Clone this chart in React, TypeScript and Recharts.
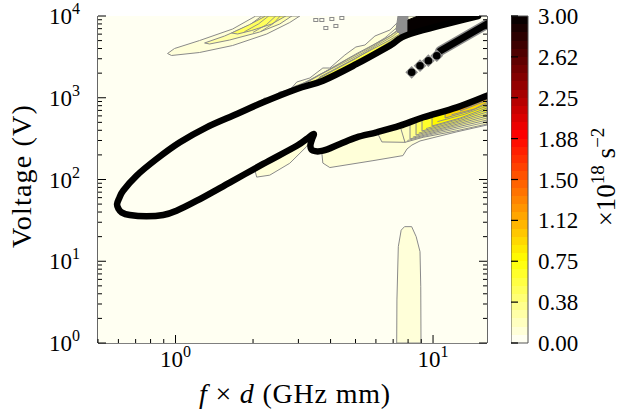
import React from "react";
import { ScatterChart, Scatter, XAxis, YAxis, ComposedChart, ReferenceArea } from "recharts";

type P = [number, number];

// contour outlines: [f x d (GHz mm), voltage (V)]
const breakdownEdge: P[] = [
  [14.96, 10000], [8.14, 6025], [6.8, 4335], [5.05, 2588], [3.74, 1617], [2.96, 1279],
  [2.19, 880], [1.73, 633], [1.32, 435], [1.04, 285], [0.844, 178], [0.705, 111],
  [0.626, 73], [0.605, 59.4], [0.593, 50], [0.6, 44], [0.617, 39.7], [0.664, 36.8],
  [0.771, 35.5], [0.896, 36.8], [1.009, 41.5], [1.21, 55], [1.63, 92.4], [2.19, 155],
  [2.96, 259], [3.23, 313], [3.44, 360], [3.38, 304], [3.34, 257], [3.41, 226],
  [3.74, 225], [4.35, 272], [5.05, 328], [6.04, 378], [7.44, 455], [9.17, 577],
  [12.37, 764], [16.2, 1060],
];

const plotField: P[] = [[0.5, 1], [16.2, 1], [16.2, 10000], [0.5, 10000]];

const topTongue1: P[] = [
  [0.931, 3477], [0.991, 4002], [1.24, 5012], [1.667, 6935], [2.048, 10000], [3.038, 10000],
  [2.777, 8324], [2.261, 6025], [1.667, 4355], [1.24, 3578], [0.965, 3288],
];
const topTongue2: P[] = [
  [1.297, 4677], [1.551, 5692], [1.941, 7762], [2.161, 10000], [2.828, 10000],
  [2.539, 7980], [2.122, 6370], [1.622, 5085], [1.356, 4543],
];
const topTongue3: P[] = [
  [1.651, 6194], [1.941, 7870], [2.239, 10000], [2.679, 10000], [2.363, 7980],
  [1.976, 6650], [1.743, 6025],
];
const topTongueLines: P[][] = [
  [[1.85, 6400], [2.1, 8000], [2.3, 10000]],
  [[2.0, 6300], [2.25, 7800], [2.45, 10000]],
  [[2.15, 6500], [2.4, 8100], [2.55, 10000]],
];

const upperShelf1: P[] = [
  [2.085, 863], [2.22, 993], [2.322, 966], [2.539, 1176], [2.777, 1244], [2.958, 1559],
  [3.322, 1745], [3.733, 2311], [3.974, 2311], [4.546, 3334], [5.016, 4178], [5.437, 4418],
  [5.948, 5692], [6.8, 6742], [7.31, 8450], [7.71, 10000], [8.9, 10000], [8.14, 6025],
  [6.8, 4335], [5.05, 2588], [3.74, 1617], [2.96, 1279], [2.19, 880],
];
const upperShelf2: P[] = [
  [2.777, 1183], [3.038, 1432], [3.733, 2009], [5.016, 3428], [6.8, 5692], [7.71, 7762],
  [8.14, 6025], [6.8, 4335], [5.05, 2588], [3.74, 1617], [2.96, 1279],
];
const upperShelf3: P[] = [
  [3.474, 1502], [3.634, 1794], [5.016, 3064], [6.8, 5085], [7.78, 6556],
  [8.14, 6025], [6.8, 4335], [5.05, 2588], [3.74, 1617],
];
const upperShelfLines: P[][] = [
  [[2.5, 1080], [2.9, 1380], [3.3, 1600], [3.9, 2150], [4.6, 2900], [5.5, 3900], [6.5, 5400], [7.3, 7400], [7.6, 10000]],
  [[3.1, 1420], [3.6, 1900], [4.3, 2500], [5.3, 3500], [6.3, 4900], [7.2, 6400], [7.5, 8200]],
  [[3.3, 1480], [4.1, 2150], [5.0, 3000], [6.0, 4300], [7.0, 5700], [7.6, 7000]],
  [[4.4, 2200], [5.4, 3100], [6.4, 4300], [7.3, 5600]],
];
const denseCap: P[] = [[7.31, 10000], [7.99, 10000], [7.99, 5858], [7.57, 5692], [7.18, 6742]];
const saturatedCap: P[] = [[7.99, 5858], [7.99, 8935], [8.74, 10000], [14.96, 10000], [8.14, 6025]];
const topSpecks: P[] = [[3.505, 8935], [3.7, 8935], [4.046, 9193], [4.425, 9455], [3.835, 7129], [4.195, 7548]];

const spotDots: P[] = [[8.26, 2047], [8.9, 2466], [9.59, 2839], [10.34, 3268]];
const spotStreak: P[] = [[10.65, 3733], [16.2, 7980]];

const notchPocket: P[] = [
  [2.029, 134], [2.066, 107], [2.322, 113], [2.777, 158], [3.226, 252], [3.352, 304],
  [3.23, 313], [2.96, 259], [2.19, 155],
];
const lowerShelf: P[] = [
  [3.7, 211], [3.733, 159], [3.974, 140], [5.843, 170], [7.64, 196], [7.92, 236],
  [8.28, 264], [8.9, 296], [12.29, 381], [16.2, 464], [16.2, 1060], [12.37, 764],
  [9.17, 577], [7.44, 455], [6.04, 378], [5.05, 328], [4.35, 272], [3.74, 225],
];
const lowerShelfInner: P[] = [[6.11, 360], [6.33, 288], [7.78, 285], [7.57, 451], [6.04, 378]];

const ridgeBands: P[][] = [
  [[7.44, 455], [7.78, 285], [9.15, 328], [12.37, 395], [16.2, 477], [16.2, 1060], [12.37, 764], [9.17, 577]],
  [[8.14, 500], [8.14, 313], [10.65, 392], [16.2, 534], [16.2, 1060], [12.37, 764], [9.17, 577]],
  [[8.59, 540], [8.59, 350], [11.65, 451], [16.2, 598], [16.2, 1060], [12.37, 764], [9.17, 577]],
  [[9.06, 572], [9.06, 392], [12.18, 505], [16.2, 669], [16.2, 1060], [12.37, 764]],
  [[9.91, 625], [9.91, 451], [12.74, 565], [16.2, 749], [16.2, 1060], [12.37, 764]],
  [[11.14, 690], [11.14, 565], [13.93, 689], [16.2, 839], [16.2, 1060], [12.37, 764]],
  [[12.74, 785], [12.74, 689], [16.2, 926], [16.2, 1060]],
];
const ridgeLevels = [2, 4, 6, 8, 10, 12, 15];
const ridgeLines: P[][] = [
  [[7.95, 300], [10.0, 360], [16.2, 505]],
  [[8.35, 330], [11.1, 420], [16.2, 565]],
  [[8.8, 370], [11.9, 478], [16.2, 632]],
  [[9.4, 420], [12.4, 535], [16.2, 708]],
  [[10.4, 510], [13.2, 625], [16.2, 790]],
  [[11.8, 620], [14.5, 730], [16.2, 880]],
  [[13.5, 760], [16.2, 970]],
];

const lowColumn: P[] = [
  [7.225, 1], [7.24, 3.36], [7.33, 15.07], [7.52, 24], [7.75, 26.5], [8.26, 26.5],
  [8.6, 20], [8.9, 13.1], [8.96, 4.88], [8.98, 1],
];

const xTicks = [0.5, 0.6, 0.7, 0.8, 0.9, 1, 2, 3, 4, 5, 6, 7, 8, 9, 10];
const xMajor = [1, 10];
const yTicks = [
  1, 2, 3, 4, 5, 6, 7, 8, 9, 10, 20, 30, 40, 50, 60, 70, 80, 90, 100, 200, 300, 400, 500,
  600, 700, 800, 900, 1000, 2000, 3000, 4000, 5000, 6000, 7000, 8000, 9000, 10000,
];
const yMajor = [1, 10, 100, 1000, 10000];
const cbarTicks = [0, 0.375, 0.75, 1.125, 1.5, 1.875, 2.25, 2.625, 3];
const cbarLabels = ["0.00", "0.38", "0.75", "1.12", "1.50", "1.88", "2.25", "2.62", "3.00"];

const serif = "'Liberation Serif', 'DejaVu Serif', serif";
const GRAY = "#8a8a8a";

// hot_r sampled at the middle of one of 40 filled levels
const hotR = (level: number) => {
  const t = 1 - (level + 0.5) / 40;
  const c = (v: number) => Math.round(255 * Math.min(1, Math.max(0, v)));
  return `rgb(${c(t / 0.365079)},${c((t - 0.365079) / 0.380953)},${c((t - 0.746032) / 0.253968)})`;
};

const toPts = (arr: P[]) => arr.map(([x, y]) => ({ x, y }));

// path through the projected points, optionally smoothed (catmull-rom)
const Region = (props: any) => {
  const { points, fillColor, edge, edgeWidth, closed, dash, cap, smooth } = props;
  if (!points || points.length < 2) return null;
  let d = `M${points[0].x},${points[0].y}`;
  for (let i = 1; i < points.length; i++) {
    const p1 = points[i - 1];
    const p2 = points[i];
    if (smooth) {
      const p0 = points[i - 2] ?? p1;
      const p3 = points[i + 1] ?? p2;
      const c1x = p1.x + (p2.x - p0.x) / 6;
      const c1y = p1.y + (p2.y - p0.y) / 6;
      const c2x = p2.x - (p3.x - p1.x) / 6;
      const c2y = p2.y - (p3.y - p1.y) / 6;
      d += ` C${c1x},${c1y} ${c2x},${c2y} ${p2.x},${p2.y}`;
    } else {
      d += ` L${p2.x},${p2.y}`;
    }
  }
  if (closed) d += " Z";
  return (
    <path
      d={d}
      fill={fillColor ?? "none"}
      stroke={edge ?? "none"}
      strokeWidth={edgeWidth ?? 1}
      strokeDasharray={dash}
      strokeLinejoin="round"
      strokeLinecap={cap ?? "butt"}
    />
  );
};

const noDot = () => <g />;

const BottomTick = ({ x, y, payload }: any) => {
  const major = xMajor.includes(payload.value);
  return (
    <g>
      <line x1={x} x2={x} y1={y} y2={y - (major ? 8 : 4)} stroke="#000" strokeWidth={1} />
      {major && (
        <text x={x} y={y + 24} textAnchor="middle" fontSize={23} fontFamily={serif} fill="#000">
          10<tspan dy={-10} fontSize={16}>{Math.round(Math.log10(payload.value))}</tspan>
        </text>
      )}
    </g>
  );
};

const TopTick = ({ x, y, payload }: any) => {
  const major = xMajor.includes(payload.value);
  return <line x1={x} x2={x} y1={y} y2={y + (major ? 8 : 4)} stroke="#000" strokeWidth={1} />;
};

const LeftTick = ({ x, y, payload }: any) => {
  const major = yMajor.includes(payload.value);
  return (
    <g>
      <line x1={x} x2={x + (major ? 8 : 4)} y1={y} y2={y} stroke="#000" strokeWidth={1} />
      {major && (
        <text x={x - 18} y={y + 8} textAnchor="end" fontSize={23} fontFamily={serif} fill="#000">
          10<tspan dy={-10} fontSize={16}>{Math.round(Math.log10(payload.value))}</tspan>
        </text>
      )}
    </g>
  );
};

const RightTick = ({ x, y, payload }: any) => {
  const major = yMajor.includes(payload.value);
  return <line x1={x} x2={x - (major ? 8 : 4)} y1={y} y2={y} stroke="#000" strokeWidth={1} />;
};

const CbarTick = ({ x, y, payload, index }: any) => (
  <g>
    <line x1={x - 17} x2={x - 10} y1={y} y2={y} stroke="#000" strokeWidth={1.2} />
    <text x={x + 10} y={y + 8} fontSize={23} fontFamily={serif} fill="#000">
      {cbarLabels[index] ?? payload.value}
    </text>
  </g>
);

const frame = { stroke: "#000", strokeWidth: 1.2 };

const App = () => {
  const fills: { data: P[]; level: number }[] = [
    { data: topTongue1, level: 1 },
    { data: topTongue2, level: 3 },
    { data: topTongue3, level: 6 },
    { data: upperShelf1, level: 1 },
    { data: upperShelf2, level: 4 },
    { data: upperShelf3, level: 7 },
    { data: notchPocket, level: 1 },
    { data: lowerShelf, level: 1 },
    { data: lowerShelfInner, level: 2 },
    ...ridgeBands.map((b, i) => ({ data: b, level: ridgeLevels[i] })),
    { data: lowColumn, level: 1 },
  ];
  const contourLines = [...topTongueLines, ...upperShelfLines, ...ridgeLines];

  const stops: React.ReactNode[] = [];
  for (let k = 0; k < 40; k++) {
    stops.push(<stop key={`a${k}`} offset={k / 40} stopColor={hotR(k)} />);
    stops.push(<stop key={`b${k}`} offset={(k + 1) / 40} stopColor={hotR(k)} />);
  }

  return (
    <div style={{ position: "absolute", left: 0, top: 0, width: 642, height: 415, background: "#fff" }}>
      <div style={{ position: "absolute", left: 0, top: 0 }}>
        <ScatterChart width={500} height={415} margin={{ top: 16, right: 8, bottom: 0, left: 0 }}>
          <XAxis
            xAxisId={0}
            dataKey="x"
            type="number"
            scale="log"
            domain={[0.5, 16.2]}
            allowDataOverflow
            ticks={xTicks}
            interval={0}
            height={72}
            tickSize={0}
            tickMargin={0}
            tickLine={false}
            axisLine={frame}
            tick={<BottomTick />}
          />
          <XAxis
            xAxisId="top"
            orientation="top"
            type="number"
            scale="log"
            domain={[0.5, 16.2]}
            allowDataOverflow
            ticks={xTicks}
            interval={0}
            height={0}
            tickSize={0}
            tickMargin={0}
            tickLine={false}
            axisLine={frame}
            tick={<TopTick />}
          />
          <YAxis
            yAxisId={0}
            dataKey="y"
            type="number"
            scale="log"
            domain={[1, 10000]}
            allowDataOverflow
            ticks={yTicks}
            interval={0}
            width={98}
            tickSize={0}
            tickMargin={0}
            tickLine={false}
            axisLine={frame}
            tick={<LeftTick />}
          />
          <YAxis
            yAxisId="right"
            orientation="right"
            type="number"
            scale="log"
            domain={[1, 10000]}
            allowDataOverflow
            ticks={yTicks}
            interval={0}
            width={5}
            tickSize={0}
            tickMargin={0}
            tickLine={false}
            axisLine={frame}
            tick={<RightTick />}
          />

          <Scatter
            data={toPts(plotField)}
            line={<Region fillColor={hotR(0)} closed />}
            lineType="joint"
            shape={noDot}
            isAnimationActive={false}
          />
          {fills.map((f, i) => (
            <Scatter
              key={`fill-${i}`}
              data={toPts(f.data)}
              line={<Region fillColor={hotR(f.level)} edge={GRAY} edgeWidth={1} closed />}
              lineType="joint"
              shape={noDot}
              isAnimationActive={false}
            />
          ))}
          {contourLines.map((l, i) => (
            <Scatter
              key={`line-${i}`}
              data={toPts(l)}
              line={<Region edge={GRAY} edgeWidth={0.9} />}
              lineType="joint"
              shape={noDot}
              isAnimationActive={false}
            />
          ))}
          <Scatter
            data={toPts(denseCap)}
            line={<Region fillColor="#8f8f8f" edge={GRAY} closed />}
            lineType="joint"
            shape={noDot}
            isAnimationActive={false}
          />
          <Scatter
            data={toPts(saturatedCap)}
            line={<Region fillColor="#050000" edge="#050000" closed />}
            lineType="joint"
            shape={noDot}
            isAnimationActive={false}
          />
          <Scatter
            data={toPts(topSpecks)}
            shape={(p: any) => <rect x={p.cx - 2} y={p.cy - 1.5} width={4} height={3} fill="none" stroke={GRAY} strokeWidth={1} />}
            isAnimationActive={false}
          />
          <Scatter
            data={toPts(spotStreak)}
            line={<Region edge={GRAY} edgeWidth={10} cap="round" />}
            lineType="joint"
            shape={noDot}
            isAnimationActive={false}
          />
          <Scatter
            data={toPts(spotStreak)}
            line={<Region edge="#000" edgeWidth={7} cap="round" />}
            lineType="joint"
            shape={noDot}
            isAnimationActive={false}
          />
          <Scatter
            data={toPts(spotDots)}
            shape={(p: any) => (
              <g>
                <rect x={p.cx - 4.5} y={p.cy - 4.5} width={9} height={9} fill={GRAY} transform={`rotate(45 ${p.cx} ${p.cy})`} />
                <circle cx={p.cx} cy={p.cy} r={3.8} fill="#000" />
              </g>
            )}
            isAnimationActive={false}
          />
          <Scatter
            data={toPts(breakdownEdge)}
            line={<Region edge="#000" edgeWidth={6.5} cap="round" smooth />}
            lineType="joint"
            shape={noDot}
            isAnimationActive={false}
          />
        </ScatterChart>
      </div>

      <div style={{ position: "absolute", left: 511, top: 0 }}>
        <ComposedChart
          width={131}
          height={415}
          margin={{ top: 16, right: 0, bottom: 72, left: 0 }}
          data={[{ x: 0, y: 0 }, { x: 1, y: 3 }]}
        >
          <defs>
            <linearGradient id="cbarGrad" x1="0" y1="1" x2="0" y2="0">
              {stops}
            </linearGradient>
          </defs>
          <XAxis type="number" dataKey="x" domain={[0, 1]} hide />
          <YAxis
            type="number"
            dataKey="y"
            orientation="right"
            domain={[0, 3]}
            ticks={cbarTicks}
            interval={0}
            width={114}
            tickSize={0}
            tickMargin={0}
            tickLine={false}
            axisLine={false}
            tick={<CbarTick />}
          />
          <ReferenceArea
            x1={0}
            x2={1}
            y1={0}
            y2={3}
            fill="url(#cbarGrad)"
            fillOpacity={1}
            stroke="#555"
            strokeWidth={1}
            ifOverflow="visible"
          />
        </ComposedChart>
      </div>

      <svg width={642} height={415} style={{ position: "absolute", left: 0, top: 0, pointerEvents: "none" }}>
        <text x={295} y={403} textAnchor="middle" fontSize={28} fontFamily={serif} fill="#000" letterSpacing={0.8}>
          <tspan fontStyle="italic">f</tspan> × <tspan fontStyle="italic">d</tspan> (GHz mm)
        </text>
        <text
          transform="translate(31,176) rotate(-90)"
          textAnchor="middle"
          fontSize={28}
          fontFamily={serif}
          fill="#000"
          letterSpacing={1.2}
        >
          Voltage (V)
        </text>
        <text transform="translate(615,177) rotate(-90)" textAnchor="middle" fontSize={27} fontFamily={serif} fill="#000">
          ×10<tspan dy={-11} fontSize={19}>18</tspan>
          <tspan dy={11}> s</tspan>
          <tspan dy={-11} fontSize={19}>−2</tspan>
        </text>
      </svg>
    </div>
  );
};

export default App;
